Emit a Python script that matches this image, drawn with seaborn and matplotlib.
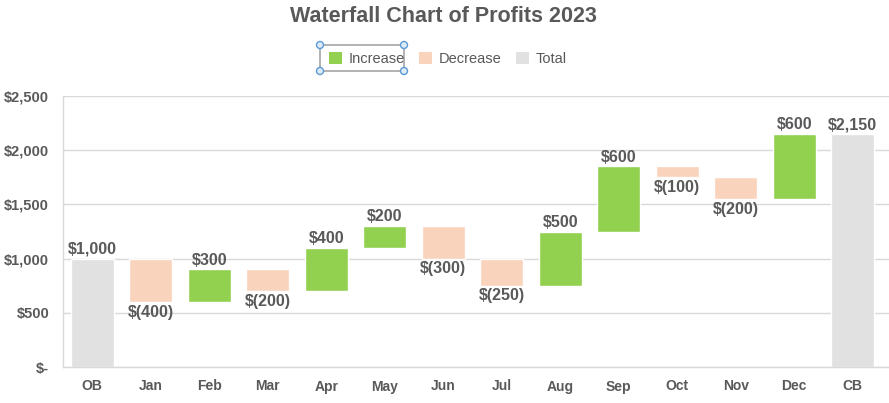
import matplotlib
matplotlib.use("Agg")
import matplotlib.pyplot as plt
import numpy as np
import pandas as pd
import seaborn as sns
from matplotlib.patches import Patch, Rectangle, Circle

categories = ["OB", "Jan", "Feb", "Mar", "Apr", "May", "Jun", "Jul", "Aug", "Sep", "Oct", "Nov", "Dec", "CB"]
changes = [1000, -400, 300, -200, 400, 200, -300, -250, 500, 600, -100, -200, 600, 2150]
kinds = ["Total"] + ["Increase" if v > 0 else "Decrease" for v in changes[1:-1]] + ["Total"]
y_ticks = [0, 500, 1000, 1500, 2000, 2500]

colors = {"Increase": "#92D050", "Decrease": "#F9D3BC", "Total": "#E1E1E1"}
text_color = "#595959"
grid_color = "#D9D9D9"


def money(v):
    if v == 0:
        return "$-"
    if v < 0:
        return f"$({abs(v):,.0f})"
    return f"${v:,.0f}"


# running base / top for each bar
base = []
height = []
level = 0
for cat, v, k in zip(categories, changes, kinds):
    if k == "Total":
        base.append(0)
        height.append(v)
        level = v
    else:
        base.append(min(level, level + v))
        height.append(abs(v))
        level += v

df = pd.DataFrame({"category": categories, "change": changes, "kind": kinds,
                   "base": base, "height": height})

sns.set_style("white")
plt.rcParams["font.family"] = ["Liberation Sans", "DejaVu Sans"]

fig = plt.figure(figsize=(8.89, 4.03), dpi=100)
ax = fig.add_axes([63 / 889, 1 - 367 / 403, 826 / 889, 271 / 403])

for kind in ["Increase", "Decrease", "Total"]:
    sub = df[df["kind"] == kind]
    sns.barplot(data=sub, x="category", y="height", order=categories,
                bottom=sub["base"].values, color=colors[kind], width=0.73,
                saturation=1, ax=ax, zorder=2)

for i, row in df.iterrows():
    top = row["base"] + row["height"]
    if row["kind"] == "Decrease":
        ax.text(i, row["base"] - 25, money(row["change"]), ha="center", va="top",
                fontsize=11.5, fontweight="bold", color=text_color)
    else:
        ax.text(i, top + 15, money(row["change"]), ha="center", va="bottom",
                fontsize=11.5, fontweight="bold", color=text_color)

ax.set_ylim(0, 2500)
ax.set_xlim(-0.5, 13.62)
ax.set_yticks(y_ticks)
ax.set_yticklabels([money(v) for v in y_ticks])
ax.yaxis.grid(True, color=grid_color, linewidth=1, zorder=0)
ax.set_axisbelow(True)
ax.set_xlabel("")
ax.set_ylabel("")
ax.tick_params(axis="both", length=0, labelcolor=text_color)
ax.tick_params(axis="x", pad=9, labelsize=10)
ax.tick_params(axis="y", pad=10, labelsize=10.5)
for lbl in ax.get_xticklabels() + ax.get_yticklabels():
    lbl.set_fontweight("bold")
for side in ["top", "right"]:
    ax.spines[side].set_visible(False)
for side in ["left", "bottom"]:
    ax.spines[side].set_color(grid_color)
    ax.spines[side].set_linewidth(1)

fig.text(443 / 889, 1 - 16 / 403, "Waterfall Chart of Profits 2023", ha="center", va="center",
         fontsize=15.5, fontweight="bold", color=text_color)

handles = [Patch(facecolor=colors[k], edgecolor="none", label=k) for k in ["Increase", "Decrease", "Total"]]
fig.legend(handles=handles, loc="center", bbox_to_anchor=(448 / 889, 1 - 59 / 403), ncol=3,
           frameon=False, fontsize=10.5, labelcolor=text_color, handlelength=0.9, handleheight=0.9,
           handletextpad=0.45, columnspacing=1.0)

# selection box around the first legend entry
fig.patches.append(Rectangle((320 / 889, 1 - 71 / 403), 84 / 889, 26 / 403, transform=fig.transFigure,
                             fill=False, edgecolor="#A6A6A6", linewidth=1.2))
for cx, cy in [(320, 45), (404, 45), (320, 71), (404, 71)]:
    fig.patches.append(Circle((cx, 403 - cy), 3.5, transform=None, facecolor="#DDEBF7",
                              edgecolor="#5B9BD5", linewidth=1))

fig.savefig("out.png", dpi=100)
